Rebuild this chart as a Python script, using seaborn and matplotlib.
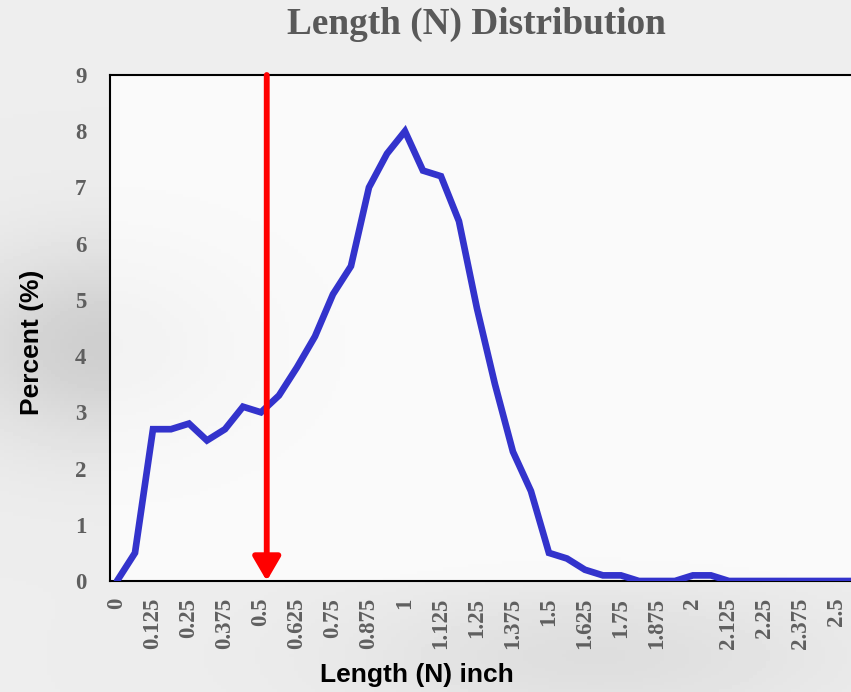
import matplotlib
matplotlib.use('Agg')
import matplotlib.pyplot as plt
import numpy as np
import seaborn as sns
import pandas as pd

# length classes every 1/16 inch, percent per class
length_in = [i * 0.0625 for i in range(42)]
percent = [0.0, 0.5, 2.7, 2.7, 2.8, 2.5, 2.7, 3.1, 3.0, 3.3,
           3.8, 4.35, 5.1, 5.6, 7.0, 7.6, 8.0, 7.3, 7.2, 6.4,
           4.85, 3.5, 2.3, 1.6, 0.5, 0.4, 0.2, 0.1, 0.1, 0.0,
           0.0, 0.0, 0.1, 0.1, 0.0, 0.0, 0.0, 0.0, 0.0, 0.0,
           0.0, 0.0]
xtick_vals = [i * 0.125 for i in range(21)]
xtick_labels = ['0', '0.125', '0.25', '0.375', '0.5', '0.625', '0.75', '0.875',
                '1', '1.125', '1.25', '1.375', '1.5', '1.625', '1.75', '1.875',
                '2', '2.125', '2.25', '2.375', '2.5']
ytick_vals = list(range(10))
marker_x = 0.52

sns.set_theme(style='white')
plt.rcParams['font.family'] = ['Liberation Serif', 'DejaVu Serif']

fig = plt.figure(figsize=(8.51, 6.92), dpi=100)
fig.patch.set_facecolor('#eeeeee')

# soft marble-like backdrop
bg = fig.add_axes([0, 0, 1, 1], zorder=-10)
yy, xx = np.mgrid[0:1:200j, 0:1:200j]
shade = 0.93 - 0.12 * np.exp(-((xx - 0.12) ** 2 / 0.03 + (yy - 0.5) ** 2 / 0.02)) \
    - 0.06 * np.exp(-((xx - 0.7) ** 2 / 0.08 + (yy - 0.95) ** 2 / 0.01))
bg.imshow(shade, cmap='gray', vmin=0, vmax=1, extent=[0, 1, 0, 1], aspect='auto')
bg.axis('off')

ax = fig.add_axes([110 / 851, 111 / 692, 741 / 851, 506 / 692])
ax.set_facecolor((1, 1, 1, 0.75))

df = pd.DataFrame({'length': length_in, 'percent': percent})
sns.lineplot(data=df, x='length', y='percent', ax=ax, color='#3333cc',
             linewidth=4.8, solid_joinstyle='miter', clip_on=True, zorder=3)

ax.annotate('', xy=(marker_x, 0), xytext=(marker_x, 9),
            arrowprops=dict(arrowstyle='-|>,head_length=0.6,head_width=0.35',
                            color='#ff0000', lw=4.2,
                            mutation_scale=24, shrinkA=0, shrinkB=0),
            annotation_clip=False, zorder=4)

ax.set_xlim(-0.0243, 2.549)
ax.set_ylim(0, 9)
ax.set_xticks(xtick_vals)
ax.set_xticklabels(xtick_labels, rotation=90, va='top')
ax.set_yticks(ytick_vals)
ax.tick_params(axis='both', length=0, labelsize=16.5, labelcolor='#5f5f5f')
ax.tick_params(axis='x', pad=12)
ax.tick_params(axis='y', pad=17)
for lab in ax.get_xticklabels() + ax.get_yticklabels():
    lab.set_fontweight('bold')
ax.set_xlabel('')
ax.set_ylabel('')
for s in ax.spines.values():
    s.set_color('black')
    s.set_linewidth(1.5)
ax.spines['right'].set_visible(False)

fig.text(476 / 851, 1 - 24 / 692, 'Length (N) Distribution', ha='center', va='center',
         fontsize=26.8, fontweight='bold', color='#595959')
fig.text(417 / 851, 1 - 675 / 692, 'Length (N) inch', ha='center', va='center',
         fontsize=19, fontweight='bold', color='black', family=['Liberation Sans'])
fig.text(32 / 851, 1 - 342 / 692, 'Percent (%)', ha='center', va='center', rotation=90,
         fontsize=19, fontweight='bold', color='black', family=['Liberation Sans'])

fig.savefig('out.png', dpi=100, facecolor=fig.get_facecolor())
